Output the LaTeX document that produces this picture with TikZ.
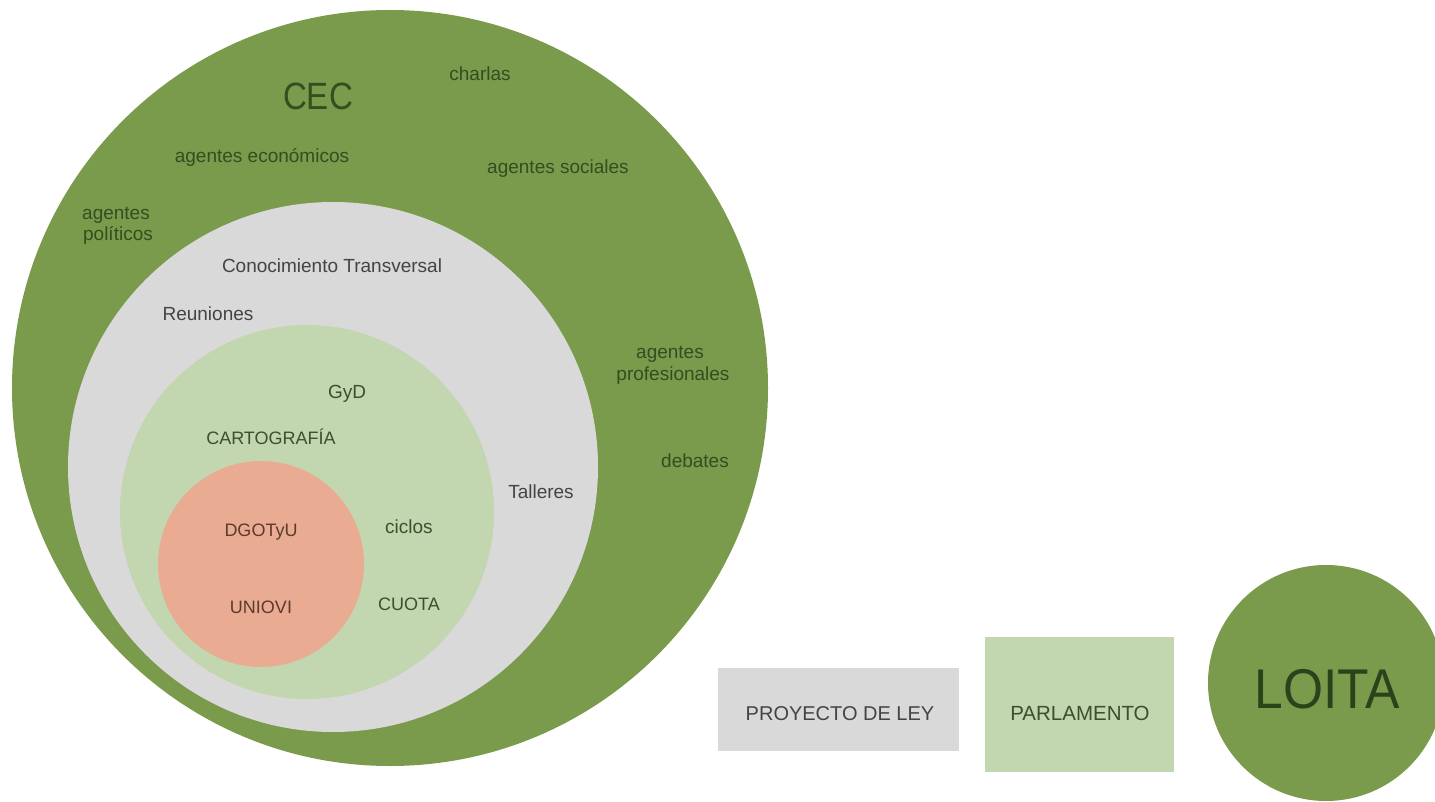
\documentclass[tikz,border=0pt]{standalone}
\usepackage{fontspec}
\setmainfont{Liberation Sans}
\newfontfamily\narrowfont[FakeStretch=0.87]{Liberation Sans}
\newfontfamily\loitafont[FakeStretch=0.92]{Liberation Sans}
\definecolor{cecgreen}{RGB}{122,154,76}
\definecolor{ctgray}{RGB}{217,217,217}
\definecolor{lightgreen}{RGB}{194,214,176}
\definecolor{salmon}{RGB}{233,172,147}
\definecolor{txtgreen}{RGB}{52,78,32}
\definecolor{txtgray}{RGB}{68,68,68}
\definecolor{txtlg}{RGB}{58,80,46}
\definecolor{txtsal}{RGB}{92,58,46}
\tikzset{
  disc/.style={circle, inner sep=0pt, minimum size=#1},
  lbl/.style={anchor=base, inner sep=0pt, font=\fontsize{19}{21}\selectfont, align=center},
  box/.style={inner sep=0pt, anchor=north west}
}
\begin{document}
\begin{tikzpicture}[x=1pt,y=-1pt]
\useasboundingbox (0,0) rectangle (1435,802);
% circles
\node[disc=756, fill=cecgreen] (cec) at (390,388) {};
\node[disc=530, fill=ctgray] (ct) at (333,467) {};
\node[disc=374, fill=lightgreen] (carto) at (307,512) {};
\node[disc=206, fill=salmon] (core) at (261,564) {};
% outer labels
\node[anchor=base, inner sep=0pt, text=txtgreen, font=\fontsize{38}{40}\narrowfont] (tcec) at (318,110) {CEC};
\node[lbl, text=txtgreen] (charlas) at (480,81) {charlas};
\node[lbl, text=txtgreen] (aecon) at (262,163) {agentes económicos};
\node[lbl, text=txtgreen] (asoc) at (558,174) {agentes sociales};
\node[lbl, text=txtgreen] (apol1) at (116,220) {agentes};
\node[lbl, text=txtgreen] (apol2) at (118,241) {políticos};
\node[lbl, text=txtgreen] (aprof1) at (670,359) {agentes};
\node[lbl, text=txtgreen] (aprof2) at (673,380) {profesionales};
\node[lbl, text=txtgreen] (debates) at (695,467) {debates};
% gray labels
\node[lbl, text=txtgray] (conoc) at (332,273) {Conocimiento Transversal};
\node[lbl, text=txtgray] (reun) at (208,320) {Reuniones};
\node[lbl, text=txtgray] (talleres) at (541,498) {Talleres};
% light green labels
\node[lbl, text=txtlg] (gyd) at (347,398) {GyD};
\node[lbl, text=txtlg, font=\fontsize{18}{20}\selectfont] (cartog) at (271,444) {CARTOGRAFÍA};
\node[lbl, text=txtlg] (ciclos) at (409,533) {ciclos};
\node[lbl, text=txtlg, font=\fontsize{18}{20}\selectfont] (cuota) at (409,610) {CUOTA};
% salmon labels
\node[lbl, text=txtsal, font=\fontsize{18}{20}\selectfont] (dgot) at (261,536) {DGOTyU};
\node[lbl, text=txtsal, font=\fontsize{18}{20}\selectfont] (uniovi) at (261,613) {UNIOVI};
% right side
\node[box, fill=ctgray, minimum width=241pt, minimum height=83pt] (proy) at (718,668) {};
\node[lbl, text=txtgray, font=\fontsize{20}{22}\selectfont] (tproy) at (840,720) {PROYECTO DE LEY};
\node[box, fill=lightgreen, minimum width=189pt, minimum height=135pt] (parl) at (985,637) {};
\node[lbl, text=txtlg, font=\fontsize{20.5}{22}\selectfont] (tparl) at (1080,720) {PARLAMENTO};
\node[disc=236, fill=cecgreen] (loita) at (1326,683) {};
\node[anchor=base, inner sep=0pt, text=txtgreen!85!black, font=\fontsize{56}{58}\loitafont] (tloita) at (1327,708) {LOITA};
\end{tikzpicture}
\end{document}
